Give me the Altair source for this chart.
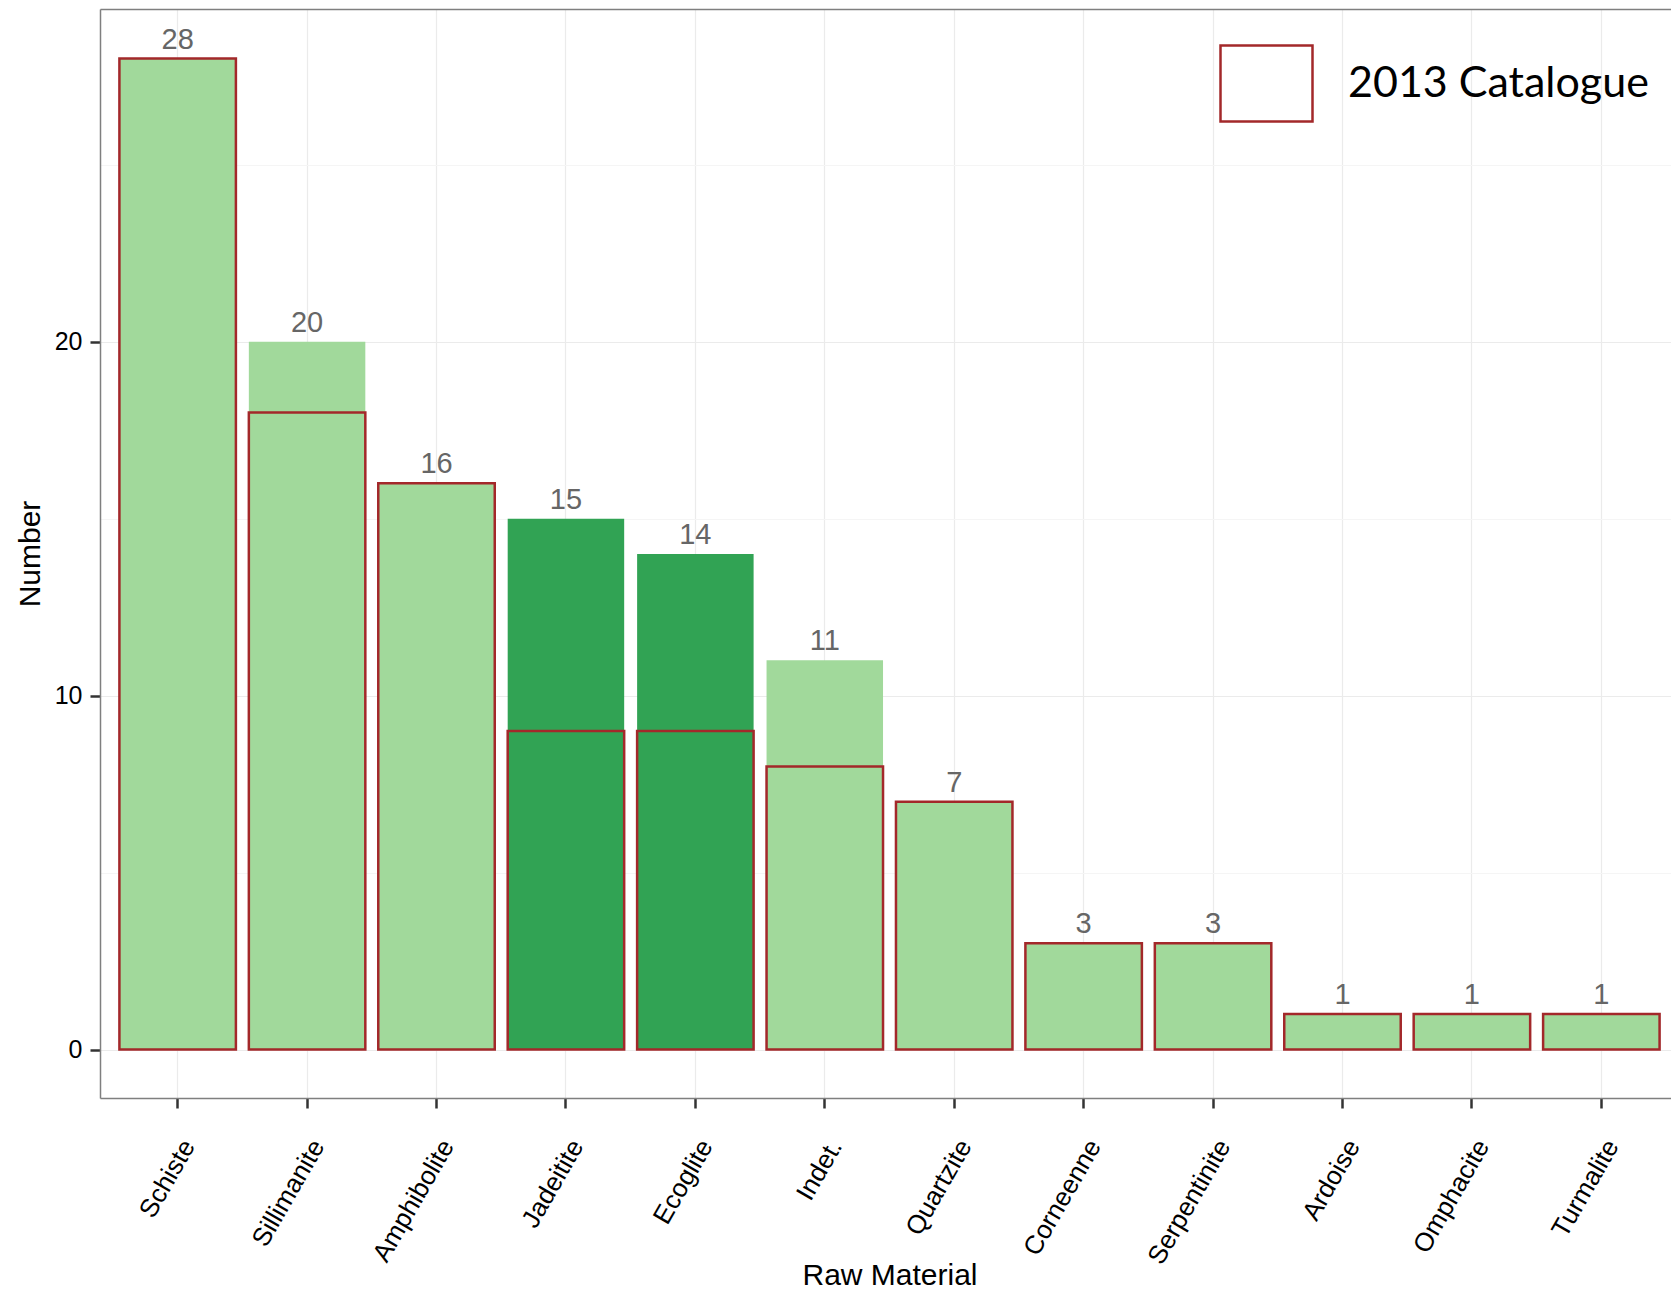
import altair as alt
import pandas as pd

materials = ["Schiste", "Sillimanite", "Amphibolite", "Jadeitite", "Ecoglite", "Indet.",
             "Quartzite", "Corneenne", "Serpentinite", "Ardoise", "Omphacite", "Turmalite"]
totals = [28, 20, 16, 15, 14, 11, 7, 3, 3, 1, 1, 1]
catalogue_2013 = [28, 18, 16, 9, 9, 8, 7, 3, 3, 1, 1, 1]
highlight = ["no", "no", "no", "yes", "yes", "no", "no", "no", "no", "no", "no", "no"]
legend_label = "2013 Catalogue"
y_tick_values = [0, 5, 10, 15, 20, 25]

df = pd.DataFrame({
    "material": materials,
    "total": totals,
    "catalogue": catalogue_2013,
    "highlight": highlight,
})

FONT = "Liberation Sans"
RED = "#a3282a"
BORDER = "#7f7f7f"

x_scale = alt.Scale(paddingInner=0.1, paddingOuter=0.15)

x_bottom = alt.X(
    "material:N", sort=materials, scale=x_scale,
    axis=alt.Axis(
        title="Raw Material", labelAngle=300, labelAlign="right", labelBaseline="top",
        labelFont=FONT, labelFontSize=26, labelColor="black", labelPadding=27,
        labelLimit=400, labelOverlap=False,
        tickSize=10, tickWidth=2.5, tickColor="#333333",
        domain=True, domainColor=BORDER, domainWidth=1.5,
        grid=True, gridColor="#ebebeb", gridWidth=1.2,
        titleFont=FONT, titleFontSize=30, titleFontWeight="normal", titleColor="black",
        titleY=186, titleBaseline="alphabetic",
    ),
)
x_none = alt.X("material:N", sort=materials, scale=x_scale, axis=None)
x_top = alt.X(
    "material:N", sort=materials, scale=x_scale,
    axis=alt.Axis(orient="top", labels=False, ticks=False, grid=False, title=None,
                  domain=True, domainColor=BORDER, domainWidth=1.5),
)

y_axis = alt.Axis(
    title="Number", values=y_tick_values,
    labelExpr="datum.value % 10 === 0 ? datum.label : ''",
    labelFont=FONT, labelFontSize=25, labelColor="black", labelPadding=8,
    tickSize=10, tickWidth=2.5, tickColor="#333333",
    domain=True, domainColor=BORDER, domainWidth=1.5,
    tickOpacity={"condition": {"test": "datum.value % 10 === 0", "value": 1}, "value": 0},
    grid=True,
    gridColor={"condition": {"test": "datum.value % 10 === 0", "value": "#ebebeb"}, "value": "#f5f5f5"},
    gridWidth=1.2,
    titleFont=FONT, titleFontSize=30, titleFontWeight="normal", titleColor="black",
    titleAngle=270, titleX=-70, titleY=544.5, titleAlign="center", titleBaseline="middle",
)
y_scale = alt.Scale(domain=[-1.37, 29.4], nice=False, zero=False)

base = alt.Chart(df)

fill_bars = base.mark_bar().encode(
    x=x_bottom,
    y=alt.Y("total:Q", scale=y_scale, axis=y_axis),
    y2=alt.datum(0),
    color=alt.Color("highlight:N", scale=alt.Scale(domain=["no", "yes"], range=["#a1d99b", "#31a354"]),
                    legend=None),
)

outline_bars = base.transform_calculate(series=f"'{legend_label}'").mark_bar(
    filled=False, strokeWidth=2.5
).encode(
    x=x_none,
    y=alt.Y("catalogue:Q", scale=y_scale),
    y2=alt.datum(0),
    stroke=alt.Stroke(
        "series:N", scale=alt.Scale(domain=[legend_label], range=[RED]),
        legend=alt.Legend(
            title=None, orient="none", legendX=1119, legendY=27, padding=0,
            symbolType="M-1,-0.826H1V0.826H-1Z", symbolSize=8464, symbolStrokeWidth=2.5,
            symbolFillColor="transparent",
            labelFont="Lato", labelFontSize=43, labelColor="black", labelOffset=34,
            labelLimit=600,
        ),
    ),
)

labels = base.mark_text(dy=-10, baseline="alphabetic", fontSize=29, color="#666666", font=FONT).encode(
    x=x_top,
    y=alt.Y("total:Q", scale=y_scale),
    text=alt.Text("total:Q"),
)

chart = alt.layer(fill_bars, outline_bars, labels).resolve_axis(x="independent").properties(
    width=1579, height=1089,
    padding={"left": 92, "top": 1, "right": -8, "bottom": 195},
    autosize=alt.AutoSizeParams(type="none"),
    background="white",
).configure_view(stroke=None)

chart.save("out.html", embed_options={"renderer": "svg", "actions": False})
